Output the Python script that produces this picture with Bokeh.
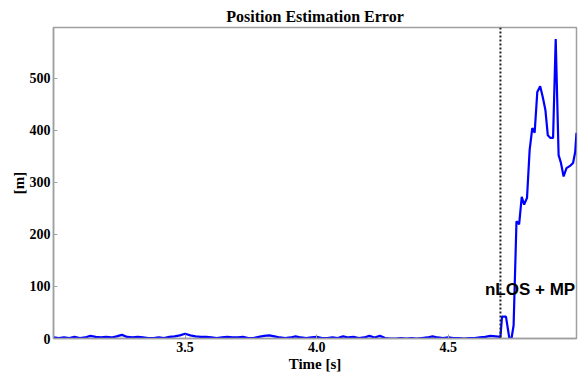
from bokeh.plotting import figure
from bokeh.models import Range1d, Span, Label, FixedTicker
from bokeh.embed import file_html
from bokeh.resources import INLINE

# LOS part: time [s] and error [m]
t_los = [3.00, 3.02, 3.04, 3.06, 3.08, 3.10, 3.12, 3.14, 3.16, 3.18,
         3.20, 3.22, 3.24, 3.26, 3.28, 3.30, 3.32, 3.34, 3.36, 3.38,
         3.40, 3.42, 3.44, 3.46, 3.48, 3.50, 3.52, 3.54, 3.56, 3.58,
         3.60, 3.62, 3.64, 3.66, 3.68, 3.70, 3.72, 3.74, 3.76, 3.78,
         3.80, 3.82, 3.84, 3.86, 3.88, 3.90, 3.92, 3.94, 3.96, 3.98,
         4.00, 4.02, 4.04, 4.06, 4.08, 4.10, 4.12, 4.14, 4.16, 4.18,
         4.20, 4.22, 4.24, 4.26, 4.28, 4.30, 4.32, 4.34, 4.36, 4.38,
         4.40, 4.42, 4.44, 4.46, 4.48, 4.50, 4.52, 4.54, 4.56, 4.58,
         4.60, 4.62, 4.64, 4.66, 4.68]
e_los = [2, 1, 2, 1, 3, 1, 2, 5, 3, 2,
         3, 2, 4, 7, 3, 2, 3, 2, 1, 1,
         2, 1, 3, 4, 6, 9, 6, 4, 3, 3,
         2, 1, 2, 3, 2, 2, 3, 1, 1, 3,
         5, 6, 4, 2, 1, 2, 4, 2, 1, 2,
         3, 1, 1, 2, 1, 4, 2, 3, 1, 2,
         5, 2, 5, 1, 0, 0, 1, 0, 1, 0,
         1, 2, 4, 2, 1, 2, 1, 1, 0, 1,
         1, 2, 3, 5, 4]

# nLOS + multipath part
t_nlos = [4.698, 4.704, 4.719, 4.732, 4.740, 4.748, 4.759, 4.769, 4.779, 4.788,
          4.799, 4.809, 4.819, 4.828, 4.838, 4.849, 4.859, 4.869, 4.878, 4.888,
          4.898, 4.908, 4.919, 4.928, 4.938, 4.949, 4.964, 4.974, 4.982, 4.987]
e_nlos = [3, 42, 42, 0, 0, 25, 225, 219, 272, 257,
          270, 362, 404, 395, 473, 484, 463, 438, 390, 385,
          385, 575, 352, 337, 311, 327, 332, 337, 358, 395]

time = t_los + t_nlos
error = e_los + e_nlos

x_ticks = [3.5, 4.0, 4.5]
y_ticks = [0, 100, 200, 300, 400, 500]
nlos_start = 4.698

serif = "Liberation Serif"
frame_col = "#a0a0a0"

p = figure(width=584, height=374, output_backend="svg", toolbar_location=None,
           x_range=Range1d(3.0, 4.987), y_range=Range1d(0, 597),
           min_border_left=53, min_border_right=8, min_border_top=27, min_border_bottom=2)
p.title.text = "Position Estimation Error"
p.title.align = "center"
p.title.text_font = serif
p.title.text_font_size = "16px"
p.title.text_font_style = "bold"
p.title.text_color = "black"
p.title.offset = 0
p.title.standoff = 5

p.grid.visible = False
p.outline_line_color = frame_col
p.outline_line_width = 1.5
p.background_fill_color = "white"

p.line(time, error, line_color="#0000ff", line_width=2.2)

p.add_layout(Span(location=nlos_start, dimension="height", line_color="#222222",
                  line_width=2, line_dash="2 2"))
p.add_layout(Label(x=4.982, y=76, text="nLOS + MP", text_align="right",
                   text_font="Liberation Sans", text_font_size="17px",
                   text_font_style="bold", text_color="black"))

for ax in (p.xaxis[0], p.yaxis[0]):
    ax.axis_line_color = frame_col
    ax.axis_line_width = 1.5
    ax.major_tick_in = 4
    ax.major_tick_out = 0
    ax.major_tick_line_color = frame_col
    ax.minor_tick_line_color = None
    ax.major_label_text_font = serif
    ax.major_label_text_font_style = "bold"
    ax.major_label_text_font_size = "14px"
    ax.major_label_text_color = "black"
    ax.axis_label_text_font = serif
    ax.axis_label_text_font_style = "bold"
    ax.axis_label_text_font_size = "15px"
    ax.axis_label_text_color = "black"
    ax.major_label_standoff = 3

p.xaxis[0].ticker = FixedTicker(ticks=x_ticks)
p.yaxis[0].ticker = FixedTicker(ticks=y_ticks)
p.xaxis[0].axis_label = "Time [s]"
p.yaxis[0].axis_label = "[m]"
p.xaxis[0].major_label_overrides = {3.5: "3.5", 4.0: "4.0", 4.5: "4.5"}
p.xaxis[0].axis_label_standoff = 1
p.yaxis[0].axis_label_standoff = 0

out = file_html(p, INLINE)
open("out.html", "w").write(out)
